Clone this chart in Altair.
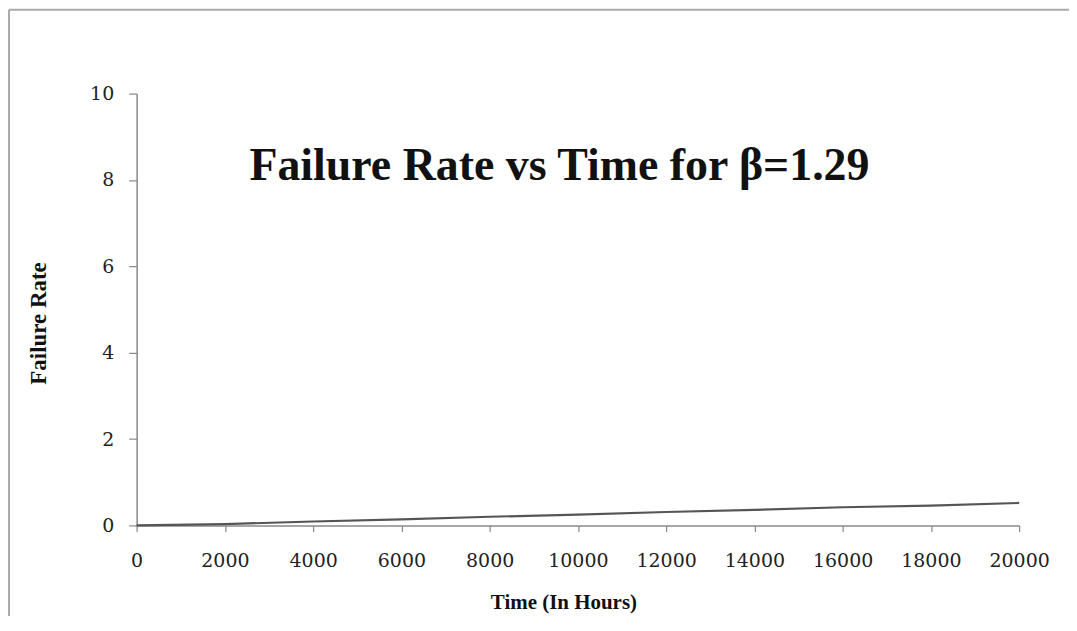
import altair as alt
import pandas as pd

# Data
time_hours = [0, 2000, 4000, 6000, 8000, 10000, 12000, 14000, 16000, 18000, 20000]
failure_rate = [0.0, 0.03, 0.09, 0.14, 0.20, 0.25, 0.31, 0.36, 0.42, 0.46, 0.52]
x_ticks = [0, 2000, 4000, 6000, 8000, 10000, 12000, 14000, 16000, 18000, 20000]
y_ticks = [0, 2, 4, 6, 8, 10]
chart_title = "Failure Rate vs Time for β=1.29"
x_title = "Time (In Hours)"
y_title = "Failure Rate"

df = pd.DataFrame({"t": time_hours, "r": failure_rate})

W, H = 885, 433
PL, PT = 129, 85

x_enc = alt.X(
    "t:Q",
    scale=alt.Scale(domain=[0, 20000], nice=False, zero=True),
    axis=alt.Axis(
        values=x_ticks, title=x_title, grid=False, format="d",
        labelOverlap=False, labelFlush=False, labelBound=False,
        titleX=428, titleY=77, titleAlign="center", titleBaseline="middle",
        labelPadding=20, tickSize=6, titleFontSize=21,
    ),
)
y_enc = alt.Y(
    "r:Q",
    scale=alt.Scale(domain=[0, 10], nice=False),
    axis=alt.Axis(
        values=y_ticks, title=y_title, grid=False, format="d",
        labelOverlap=False, labelFlush=False, labelBound=False,
        titleX=-98, titleY=230, titleAngle=270, titleAlign="center", titleBaseline="middle",
        labelPadding=15, tickSize=8, titleFontSize=23,
    ),
)

line = alt.Chart(df).mark_line(color="#555555", strokeWidth=2.2).encode(x=x_enc, y=y_enc)

title_text = alt.Chart(pd.DataFrame({"label": [chart_title]})).mark_text(
    font="Liberation Serif", fontWeight="bold", fontSize=46, color="#111111",
    align="center", baseline="middle",
).encode(x=alt.value(424), y=alt.value(73), text="label:N")

border_top = alt.Chart(pd.DataFrame({"k": [0]})).mark_rule(color="#aaaaaa", strokeWidth=2).encode(
    x=alt.value(-128), x2=alt.value(1077 - 137), y=alt.value(-84)
)
border_left = alt.Chart(pd.DataFrame({"k": [0]})).mark_rule(color="#aaaaaa", strokeWidth=2).encode(
    x=alt.value(-128), y=alt.value(-84), y2=alt.value(631 - 93)
)

chart = (
    alt.layer(border_top, border_left, line, title_text)
    .properties(
        width=W, height=H,
        background="white",
        autosize=alt.AutoSizeParams(type="none"),
        padding={"left": PL, "top": PT, "right": 50, "bottom": 90},
    )
    .configure_view(stroke=None)
    .configure_axis(
        domainColor="#888888", domainWidth=1.5, tickColor="#888888", tickWidth=1.2,
        labelFont="DejaVu Serif", labelFontSize=19, labelColor="#222222",
        titleFont="Liberation Serif", titleFontWeight="bold", titleColor="#111111",
    )
)

chart.save("out.html", embed_options={"renderer": "svg", "actions": False})
